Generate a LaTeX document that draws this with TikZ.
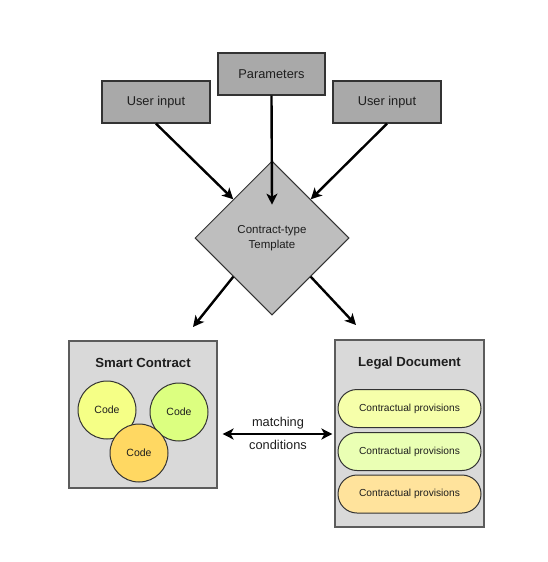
\documentclass[tikz,border=0pt]{standalone}
\usepackage{fontspec}
\setmainfont{Liberation Sans}
\usetikzlibrary{shapes.geometric,shapes.misc,arrows.meta,calc}
\definecolor{boxgray}{HTML}{A9A9A9}
\definecolor{tplgray}{HTML}{BEBEBE}
\definecolor{contgray}{HTML}{D9D9D9}
\definecolor{edgec}{HTML}{333333}
\definecolor{txt}{HTML}{1E1E1E}
\definecolor{cyel}{HTML}{F5FF86}
\definecolor{cgrn}{HTML}{DCFF80}
\definecolor{corg}{HTML}{FFD862}
\definecolor{pyel}{HTML}{F6FFAA}
\definecolor{pgrn}{HTML}{EAFFB4}
\definecolor{porg}{HTML}{FFE39C}
\tikzset{
  topbox/.style={draw=edgec, line width=1.3pt, fill=boxgray, minimum width=107pt, minimum height=42pt, inner sep=0pt, font=\fontsize{12.8}{14}\selectfont, text=txt},
  tplshape/.style={diamond, draw=edgec, line width=1pt, fill=tplgray, minimum width=154pt, minimum height=154pt, inner sep=0pt, aspect=1, align=center, font=\fontsize{11.5}{15}\selectfont, text=txt},
  container/.style={draw=edgec!80, line width=1.2pt, fill=contgray, inner sep=0pt},
  ctitle/.style={font=\bfseries\fontsize{13.2}{15}\selectfont, text=txt},
  codecirc/.style={circle, draw=edgec, line width=1pt, minimum size=58pt, inner sep=0pt, font=\fontsize{10.5}{12}\selectfont, text=txt},
  pill/.style={rounded rectangle, draw=edgec, line width=1pt, minimum width=143pt, minimum height=38pt, inner sep=0pt, font=\fontsize{10.2}{12}\selectfont, text=txt},
  arr/.style={line width=2.4pt, -{Stealth[length=11pt,width=11pt,inset=3pt]}},
  barr/.style={line width=2.4pt, {Stealth[length=11pt,width=11pt,inset=3pt]}-{Stealth[length=11pt,width=11pt,inset=3pt]}},
  lbl/.style={font=\fontsize{12.8}{14}\selectfont, text=txt, inner sep=0pt}
}
\begin{document}
\begin{tikzpicture}[x=1pt,y=-1pt]
\useasboundingbox (0,0) rectangle (548,562);
% top boxes
\node[topbox, minimum width=108pt] (uL) at (156,102) {User input};
\node[topbox] (par) at (271.5,74) {Parameters};
\node[topbox, minimum width=108pt] (uR) at (387,102) {User input};
% template
\node[tplshape] (tpl) at (272,238) {Contract-type\\Template};
% arrows in
\draw[arr] (uL.south) -- (tpl.north west);
\draw[arr] (uR.south) -- (tpl.north east);
\draw[arr] (par.south) -- ($(tpl.north)!0.57!(tpl.center)$);
% containers
\node[container, minimum width=148pt, minimum height=147pt] (sc) at (143,414.5) {};
\node[container, minimum width=149pt, minimum height=187pt] (ld) at (409.5,433.5) {};
\node[ctitle] (sct) at (143,363) {Smart Contract};
\node[ctitle] (ldt) at (409.5,363) {Legal Document};
% arrows out
\coordinate (scIn) at (193,327);
\coordinate (ldIn) at (356,325);
\draw[arr] (tpl.south west) -- (scIn);
\draw[arr] (tpl.south east) -- (ldIn);
% code circles
\node[codecirc, fill=cyel] (c1) at (107,410) {Code};
\node[codecirc, fill=cgrn] (c2) at (179,412) {Code};
\node[codecirc, fill=corg] (c3) at (139,453) {Code};
% provisions
\node[pill, fill=pyel] (p1) at (409.5,408.5) {Contractual provisions};
\node[pill, fill=pgrn] (p2) at (409.5,451.5) {Contractual provisions};
\node[pill, fill=porg] (p3) at (409.5,494) {Contractual provisions};
% matching
\coordinate (mid) at (278,434);
\draw[barr] ([xshift=5pt]sc.east |- mid) -- ([xshift=-2pt]ld.west |- mid);
\node[lbl] (m1) at (278,423) {matching};
\node[lbl] (m2) at (278,445) {conditions};
\end{tikzpicture}
\end{document}
